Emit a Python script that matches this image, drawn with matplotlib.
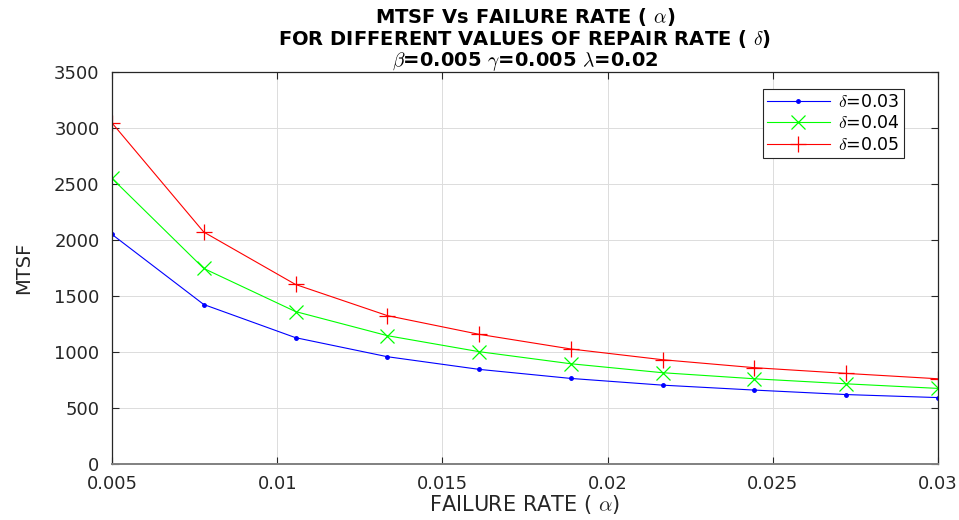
import matplotlib
matplotlib.use("Agg")
import matplotlib.pyplot as plt
import numpy as np

plt.rcParams["font.family"] = ["DejaVu Sans"]
plt.rcParams["mathtext.fontset"] = "cm"

# failure rate alpha, 10 equally spaced points
alpha = np.linspace(0.005, 0.03, 10)

mtsf_d003 = [2050, 1424, 1128, 958, 845, 764, 704, 660, 620, 593]
mtsf_d004 = [2550, 1746, 1361, 1146, 1003, 895, 815, 761, 716, 675]
mtsf_d005 = [3045, 2071, 1603, 1325, 1158, 1027, 931, 860, 809, 761]

labels = [r"$\delta$=0.03", r"$\delta$=0.04", r"$\delta$=0.05"]
xtick_labels = ["0.005", "0.01", "0.015", "0.02", "0.025", "0.03"]

fig = plt.figure(figsize=(9.59, 5.2), dpi=100)
ax = fig.add_axes([0.1168, 0.1077, 0.8612, 0.7538])

ax.plot(alpha, mtsf_d003, color="#0000ff", lw=0.8, marker=".", ms=5, label=labels[0])
ax.plot(alpha, mtsf_d004, color="#00ff00", lw=0.8, marker="x", ms=10, mew=0.9, label=labels[1])
ax.plot(alpha, mtsf_d005, color="#ff0000", lw=0.8, marker="+", ms=12, mew=0.9, label=labels[2])

ax.set_xlim(0.005, 0.03)
ax.set_ylim(0, 3500)
ax.set_xticks(np.arange(0.005, 0.0301, 0.005))
ax.set_xticklabels(xtick_labels)
ax.set_yticks(np.arange(0, 3501, 500))

ax.grid(True, color="#dcdcdc", lw=0.7)
ax.set_axisbelow(True)
ax.tick_params(direction="in", top=True, right=True, length=5, width=0.8,
               labelsize=13, colors="#262626")
ax.tick_params(axis="x", pad=8)
ax.tick_params(axis="y", pad=9)
for s in ax.spines.values():
    s.set_color("#262626")
    s.set_linewidth(0.9)
ax.spines["bottom"].set_color("#808080")
ax.spines["bottom"].set_linewidth(1.4)

ax.set_xlabel(r"FAILURE RATE ( $\alpha$)", fontsize=15, color="#262626", labelpad=0)
ax.set_ylabel("MTSF", fontsize=14, color="#262626", labelpad=15)

ax.set_title("MTSF Vs FAILURE RATE ( $\\alpha$)\n"
             "FOR DIFFERENT VALUES OF REPAIR RATE ( $\\delta$)\n"
             "$\\beta$=0.005 $\\gamma$=0.005 $\\lambda$=0.02",
             fontsize=14, fontweight="bold", linespacing=1.02, pad=4)

leg = ax.legend(loc="upper right", bbox_to_anchor=(0.97, 0.98), fontsize=12.5,
                fancybox=False, framealpha=1, edgecolor="#262626",
                handlelength=3.6, borderpad=0.25, labelspacing=0.2, handletextpad=0.5)
leg.get_frame().set_linewidth(0.8)

fig.savefig("out.png", dpi=100)
